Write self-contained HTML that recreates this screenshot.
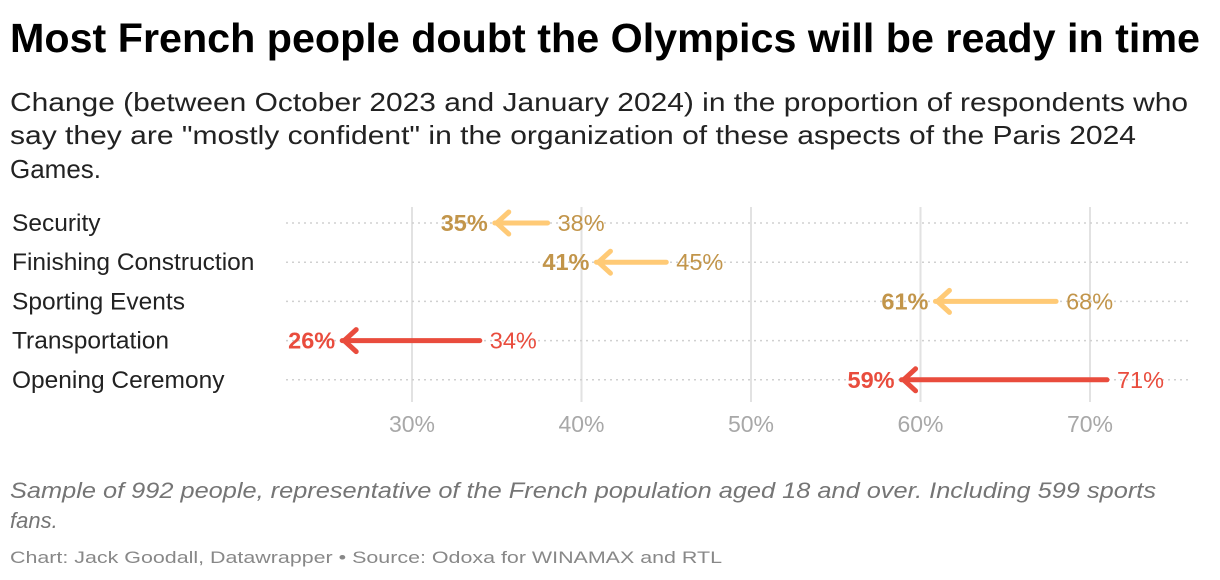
<!DOCTYPE html>
<html><head><meta charset="utf-8"><style>
html,body{margin:0;padding:0;background:#fff;}
svg{display:block;font-family:"Liberation Sans",sans-serif;}
</style></head><body>
<svg id="chart" width="1220" height="580" viewBox="0 0 1220 580">
<text x="10" y="52" font-size="41" font-weight="bold" fill="#000" textLength="1190" lengthAdjust="spacingAndGlyphs">Most French people doubt the Olympics will be ready in time</text>
<g font-size="26" fill="#222">
<text x="10" y="111" textLength="1178" lengthAdjust="spacingAndGlyphs">Change (between October 2023 and January 2024) in the proportion of respondents who</text>
<text x="10" y="144" textLength="1126" lengthAdjust="spacingAndGlyphs">say they are "mostly confident" in the organization of these aspects of the Paris 2024</text>
<text x="10" y="178">Games.</text>
</g>
<g id="grid"></g>
<g id="marks"></g>
<g font-size="22" font-style="italic" fill="#757575">
<text x="10" y="498" textLength="1146" lengthAdjust="spacingAndGlyphs">Sample of 992 people, representative of the French population aged 18 and over. Including 599 sports</text>
<text x="10" y="528">fans.</text>
</g>
<text x="10" y="563" font-size="17" fill="#888" textLength="712" lengthAdjust="spacingAndGlyphs">Chart: Jack Goodall, Datawrapper • Source: Odoxa for WINAMAX and RTL</text>
</svg>
<script>
const categories=["Security","Finishing Construction","Sporting Events","Transportation","Opening Ceremony"];
const before=[38,45,68,34,71];
const after=[35,41,61,26,59];
const severe=[false,false,false,true,true];
const ticks=[30,40,50,60,70];
const NS="http://www.w3.org/2000/svg";
const x=v=>412+(v-30)*16.95;
const y=i=>223+i*39.2;
function mk(tag,attrs,parent,txt){const e=document.createElementNS(NS,tag);for(const k in attrs)e.setAttribute(k,attrs[k]);if(txt!==undefined)e.textContent=txt;parent.appendChild(e);return e;}
const grid=document.getElementById('grid'),marks=document.getElementById('marks');
ticks.forEach(t=>{
  const l=mk('line',{x1:x(t),x2:x(t),y1:207,y2:402,stroke:'#e2e2e2','stroke-width':2},grid);
  
  
  const tx=mk('text',{x:x(t),y:432,'text-anchor':'middle','font-size':23,fill:'#a8a8a8'},grid,t+'%');
  
  
});
categories.forEach((c,i)=>{
  const yy=y(i);
  const g=mk('line',{x1:286,x2:1188,y1:yy,y2:yy,stroke:'#d0d0d0','stroke-width':1.5,'stroke-dasharray':'2,4'},grid);
  
  
  const lab=mk('text',{x:12,y:yy+8,'font-size':24.5,fill:'#222'},marks,c);
  
  
  const col=severe[i]?'#e94c3d':'#ffca76';
  const tcol=severe[i]?'#e94c3d':'#c2954a';
  const x0=x(before[i]),x1=x(after[i]);
  const ar=mk('g',{},marks);
  
  
  mk('line',{x1:x0,x2:x1-2,y1:yy,y2:yy,stroke:col,'stroke-width':5,'stroke-linecap':'round'},ar);
  mk('polyline',{points:`${x1+12},${yy-11} ${x1},${yy} ${x1+12},${yy+11}`,fill:'none',stroke:col,'stroke-width':5,'stroke-linecap':'round','stroke-linejoin':'round'},ar);
  const tb=mk('text',{x:x0+10,y:yy+8,'font-size':23.5,fill:tcol},marks,before[i]+'%');
  
  
  const ta=mk('text',{x:x1-9,y:yy+8,'font-size':23.5,'font-weight':'bold','text-anchor':'end',fill:tcol},marks,after[i]+'%');
  
  
});
</script>
</body></html>
